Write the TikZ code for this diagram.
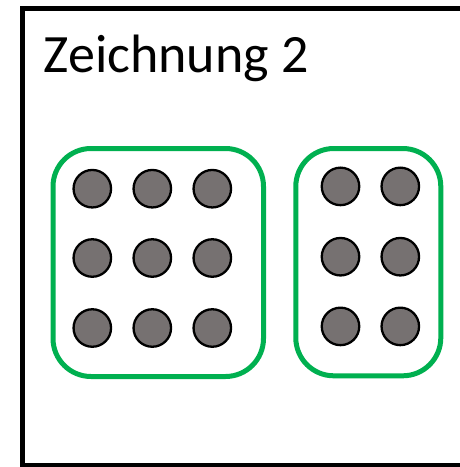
\documentclass[tikz,border=0pt]{standalone}
\usepackage{fontspec}
\setmainfont{Carlito}
\definecolor{boxgreen}{HTML}{00B050}
\definecolor{dotgray}{HTML}{767171}
\begin{document}
\begin{tikzpicture}[x=1pt,y=-1pt,
  dot/.style={circle,draw=black,fill=dotgray,line width=2.3pt,minimum size=37.5pt,inner sep=0pt},
  group/.style={draw=boxgreen,line width=5pt,rounded corners=38pt,inner sep=0pt},
  frame/.style={draw=black,line width=5pt}]
\clip (0,0) rectangle (460,467);
\fill[white] (0,0) rectangle (460,467);
\draw[frame] (22.5,8.5) rectangle (480,465);
\node[anchor=base west,inner sep=0pt,font=\fontsize{54}{63}\selectfont] (title) at (43.5,72.5) {Zeichnung 2};
% left group
\node[group,minimum width=210.5pt,minimum height=228pt] (g1) at (158.25,262.5) {};
\foreach \c/\x in {1/92.3,2/152.3,3/212.3}{
  \foreach \r/\y in {1/188.7,2/258,3/328}{
    \node[dot] (a\r\c) at (\x,\y) {};
  }
}
% right group
\node[group,minimum width=145pt,minimum height=227.3pt] (g2) at (368.3,262.15) {};
\foreach \c/\x in {1/340.5,2/400.3}{
  \foreach \r/\y in {1/186.4,2/256.7,3/326.4}{
    \node[dot] (b\r\c) at (\x,\y) {};
  }
}
\end{tikzpicture}
\end{document}
